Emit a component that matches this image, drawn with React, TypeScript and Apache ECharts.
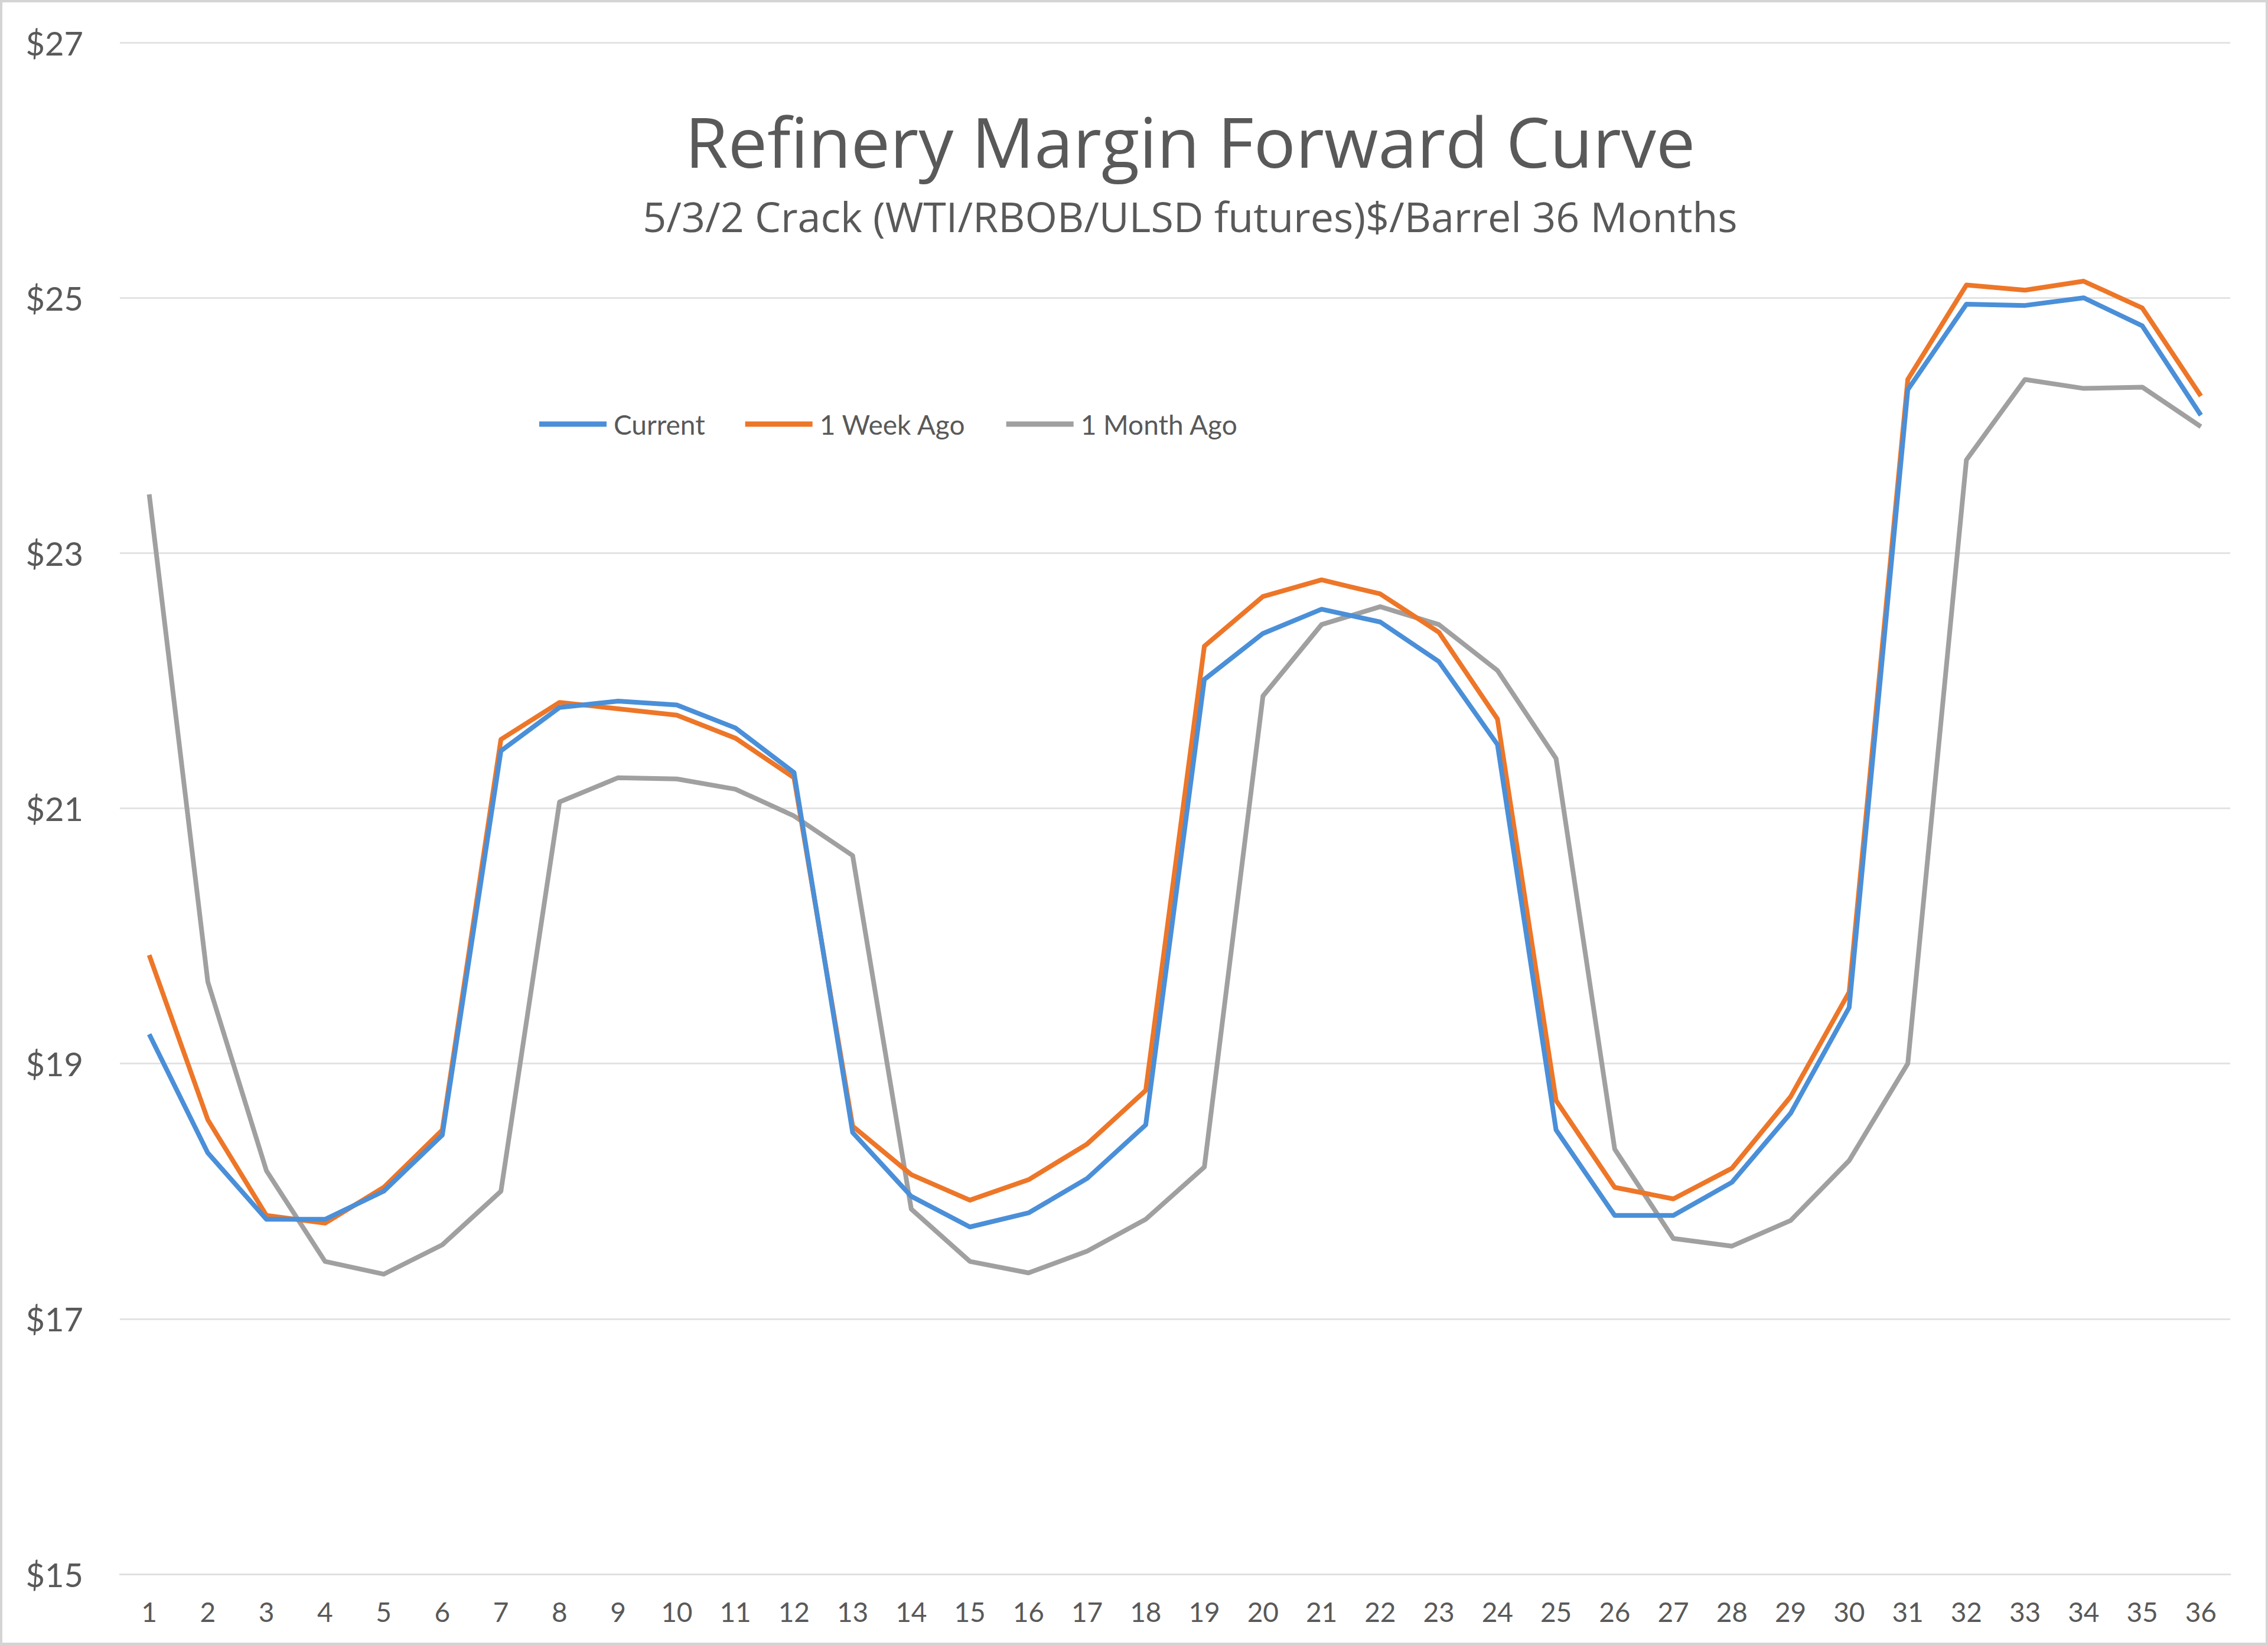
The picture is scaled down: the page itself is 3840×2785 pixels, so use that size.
import React, { useEffect, useRef } from "react";
import * as echarts from "echarts";

const months = Array.from({ length: 36 }, (_, i) => String(i + 1));

const current = [19.23, 18.30, 17.78, 17.78, 18.00, 18.44, 21.45, 21.79, 21.84, 21.81, 21.63, 21.28, 18.46, 17.96, 17.72, 17.83, 18.10, 18.52, 22.01, 22.37, 22.56, 22.46, 22.15, 21.50, 18.48, 17.81, 17.81, 18.07, 18.61, 19.44, 24.28, 24.95, 24.94, 25.00, 24.78, 24.08];
const weekAgo = [19.85, 18.56, 17.81, 17.75, 18.03, 18.48, 21.54, 21.83, 21.78, 21.73, 21.55, 21.24, 18.51, 18.13, 17.93, 18.09, 18.37, 18.79, 22.27, 22.66, 22.79, 22.68, 22.38, 21.70, 18.71, 18.03, 17.94, 18.18, 18.74, 19.56, 24.36, 25.10, 25.06, 25.13, 24.92, 24.23];
const monthAgo = [23.46, 19.64, 18.16, 17.45, 17.35, 17.58, 18.00, 21.05, 21.24, 21.23, 21.15, 20.94, 20.63, 17.86, 17.45, 17.36, 17.53, 17.78, 18.19, 21.88, 22.44, 22.58, 22.44, 22.08, 21.39, 18.33, 17.63, 17.57, 17.77, 18.24, 19.00, 23.73, 24.36, 24.29, 24.30, 23.99];

const seriesNames = ["Current", "1 Week Ago", "1 Month Ago"];
const seriesColors = ["#4A8FD8", "#ED7628", "#A0A0A0"];
const titleText = "Refinery Margin Forward Curve";
const subtitleText = "5/3/2 Crack (WTI/RBOB/ULSD futures)$/Barrel 36 Months";

const FONT = "Lato, 'Open Sans', sans-serif";
const TITLE_FONT = "'Open Sans', Lato, sans-serif";
const TEXT = "#595959";

export default function App() {
  const ref = useRef<HTMLDivElement>(null);
  useEffect(() => {
    document.body.style.margin = "0";
    const chart = echarts.init(ref.current!, null, { renderer: "svg" });
    const data = [current, weekAgo, monthAgo];
    chart.setOption({
      animation: false,
      backgroundColor: "#ffffff",
      textStyle: { fontFamily: FONT },
      grid: { left: 203, right: 64, top: 72, bottom: 120, containLabel: false },
      graphic: [
        {
          type: "rect",
          shape: { x: 2, y: 2, width: 3836, height: 2781 },
          style: { fill: "none", stroke: "#d4d4d4", lineWidth: 4 },
          silent: true,
        },
        {
          type: "text",
          x: 2015,
          y: 238,
          style: {
            text: titleText,
            fontSize: 118,
            fontFamily: TITLE_FONT,
            fill: TEXT,
            textAlign: "center",
            textVerticalAlign: "middle",
          },
        },
        {
          type: "text",
          x: 2015,
          y: 366,
          style: {
            text: subtitleText,
            fontSize: 70,
            fontFamily: TITLE_FONT,
            fill: TEXT,
            textAlign: "center",
            textVerticalAlign: "middle",
          },
        },
      ],
      legend: {
        left: 908,
        top: 690,
        icon: "rect",
        itemWidth: 114,
        itemHeight: 9,
        itemGap: 68,
        textStyle: { fontSize: 46, color: TEXT, fontFamily: FONT, padding: [0, 0, 0, 7] },
        data: seriesNames,
      },
      xAxis: {
        type: "category",
        data: months,
        boundaryGap: true,
        axisLine: { show: true, lineStyle: { color: "#e0e0e0", width: 3 } },
        axisTick: { show: false },
        axisLabel: { fontSize: 46, color: TEXT, margin: 40, fontFamily: FONT, interval: 0 },
      },
      yAxis: {
        type: "value",
        min: 15,
        max: 27,
        interval: 2,
        axisLine: { show: false },
        axisTick: { show: false },
        splitLine: { lineStyle: { color: "#e3e3e3", width: 3 } },
        axisLabel: {
          fontSize: 56,
          color: TEXT,
          margin: 62,
          fontFamily: FONT,
          formatter: (v: number) => "$" + v,
        },
      },
      series: seriesNames.map((name, i) => ({
        name,
        type: "line",
        data: data[i],
        symbol: "none",
        z: 3 - i,
        lineStyle: { color: seriesColors[i], width: 8, join: "round" },
        itemStyle: { color: seriesColors[i] },
      })),
    });
    return () => chart.dispose();
  }, []);
  return (
    <div
      ref={ref}
      style={{ position: "absolute", left: 0, top: 0, width: 3840, height: 2785 }}
    />
  );
}
